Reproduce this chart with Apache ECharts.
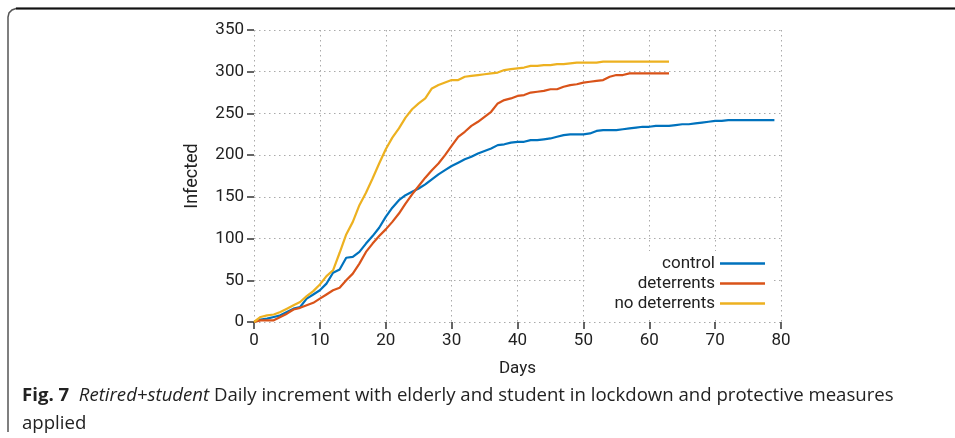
<!DOCTYPE html>
<html><head><meta charset="utf-8">
<script src="https://cdn.jsdelivr.net/npm/echarts@6/dist/echarts.min.js"></script>
<style>html,body{margin:0;padding:0;background:#fff}#c{width:955px;height:438px}</style>
</head><body><div id="c"></div>
<script>
var days = [];
for (var i = 0; i <= 79; i++) days.push(i);
var controlVals = [0,3,4,6,8,12,16,18,28,33,38,46,59,63,77,78,84,94,103,113,126,137,146,152,156,160,165,171,177,182,187,191,195,198,202,205,208,212,213,215,216,216,218,218,219,220,222,224,225,225,225,226,229,230,230,230,231,232,233,234,234,235,235,235,236,237,237,238,239,240,241,241,242,242,242,242,242,242,242,242];
var deterrentsVals = [0,2,2,2,6,10,15,17,20,23,28,33,38,41,50,58,70,84,94,103,111,120,130,142,153,163,173,182,190,200,211,222,228,235,240,246,252,262,266,268,271,272,275,276,277,279,279,282,284,285,287,288,289,290,294,296,296,298,298,298,298,298,298,298];
var noDeterrentsVals = [0,6,8,9,12,16,20,24,31,37,45,55,62,83,105,120,140,155,172,190,207,221,232,245,255,262,268,280,284,287,290,290,294,295,296,297,298,299,302,303,304,305,307,307,308,308,309,309,310,311,311,311,311,312,312,312,312,312,312,312,312,312,312,312];
var seriesNames = ['control','deterrents','no deterrents'];
var seriesColors = ['#0072BD','#D95319','#EDB120'];
var xTicks = [0,10,20,30,40,50,60,70,80];
var yTicks = [0,50,100,150,200,250,300,350];

function pairs(vals){ return vals.map(function(v,i){ return [days[i], v]; }); }
var allVals = [controlVals, deterrentsVals, noDeterrentsVals];

var chart = echarts.init(document.getElementById('c'), null, {renderer:'canvas'});
var font = 'Roboto';
var grid = {color:'#aaa', type:[1.5,3.5], width:1};
chart.setOption({
  animation:false,
  backgroundColor:'#fff',
  grid:{left:254, right:174, top:30, bottom:116, containLabel:false},
  xAxis:{type:'value', min:xTicks[0], max:xTicks[xTicks.length-1], interval:10,
    name:'Days', nameLocation:'middle', nameGap:38,
    nameTextStyle:{fontFamily:font, fontSize:17, color:'#222'},
    axisLine:{show:false},
    axisTick:{show:true, inside:false, length:7, lineStyle:{color:'#333', width:1.5}},
    axisLabel:{fontFamily:font, fontSize:17, color:'#222', margin:10},
    splitLine:{show:true, lineStyle:grid}},
  yAxis:{type:'value', min:yTicks[0], max:yTicks[yTicks.length-1], interval:50,
    name:'Infected', nameLocation:'middle', nameGap:53, nameRotate:90,
    nameTextStyle:{fontFamily:font, fontSize:18, color:'#222'},
    axisLine:{show:false},
    axisTick:{show:true, inside:false, length:7, lineStyle:{color:'#333', width:1.5}},
    axisLabel:{fontFamily:font, fontSize:17, color:'#222', margin:10},
    splitLine:{show:true, lineStyle:grid}},
  legend:{orient:'vertical', right:184, top:251, align:'right',
    backgroundColor:'#fff', padding:[4,6,8,30], itemGap:3,
    itemWidth:45, itemHeight:17,
    textStyle:{fontFamily:font, fontSize:17, color:'#222'},
    data:seriesNames.map(function(n,i){ return {name:n, icon:'path://M0,7 L45,7 L45,9.5 L0,9.5 Z', itemStyle:{color:seriesColors[i]}}; })},
  series:seriesNames.map(function(n,i){ return {
    name:n, type:'line', data:pairs(allVals[i]), showSymbol:false, symbol:'none',
    lineStyle:{color:seriesColors[i], width:2.2}, itemStyle:{color:seriesColors[i]}, z:3}; }),
  graphic:[
    {type:'polyline', shape:{points:[[8,432],[8,17],[9,13],[12,10],[16,8.5],[955,8.5]]}, style:{stroke:'#555', lineWidth:1.5, fill:null}},
    {type:'line', shape:{x1:16, y1:8.5, x2:955, y2:8.5}, style:{stroke:'#111', lineWidth:2}},
    {type:'text', left:22, top:386, style:{
      text:'{b|Fig. 7}  {i|Retired+student} Daily increment with elderly and student in lockdown and protective measures',
      rich:{b:{fontFamily:'Open Sans', fontWeight:'bold', fontSize:18.6, fill:'#222'},
            i:{fontFamily:'Open Sans', fontStyle:'italic', fontSize:18.6, fill:'#222'}},
      fontFamily:'Open Sans', fontSize:18.6, fill:'#222'}},
    {type:'text', left:22, top:414, style:{text:'applied', fontFamily:'Open Sans', fontSize:18.6, fill:'#222'}}
  ]
});
</script></body></html>
